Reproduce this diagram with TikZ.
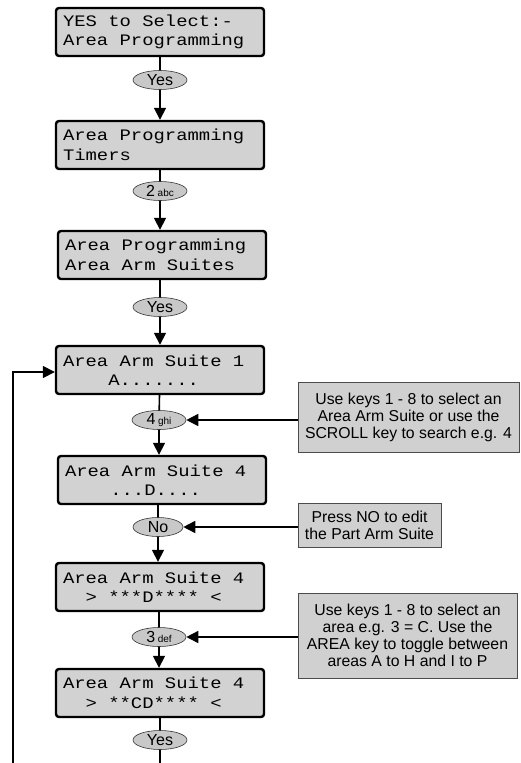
\documentclass[tikz,border=0pt]{standalone}
\usepackage{fontspec}
\setmainfont{Liberation Sans}
\newfontfamily\lcdfont[FakeStretch=1.18]{Liberation Mono}
\usetikzlibrary{arrows.meta,calc,shapes.geometric}
\definecolor{lcdfill}{HTML}{D2D2D2}
\definecolor{keyfill}{HTML}{C8C8C8}
\definecolor{notefill}{HTML}{D0D0D0}
\newcommand{\ind}[1]{\phantom{#1}}
\newcommand{\s}{\hbox to 0.708em{}}
\newcommand{\lcdsel}{\lcdfont\fontsize{16}{19.5}\selectfont}
\tikzset{
  lcd/.style={draw=black, line width=2.4pt, rounded corners=3pt, fill=lcdfill,
    minimum width=208pt, minimum height=48pt, inner sep=0pt, text width=194pt,
    align=left, font=\lcdsel},
  key/.style={ellipse, draw=black!80, line width=0.6pt, fill=keyfill,
    minimum width=54pt, minimum height=19pt, inner sep=0pt,
    font=\fontsize{16}{16}\selectfont},
  note/.style={draw=black!70, line width=0.7pt, fill=notefill, inner sep=0pt,
    align=center, font=\fontsize{15.8}{17}\selectfont},
  link/.style={line width=1.6pt},
  flow/.style={line width=1.6pt, -{Triangle[width=12pt,length=12pt]}}
}
\newcommand{\kl}[2]{#1\,{\fontsize{10}{10}\selectfont #2}}
\begin{document}
\begin{tikzpicture}[x=1pt,y=-1pt]
\useasboundingbox (0,0) rectangle (520,763);
% LCD boxes
\node[lcd] (b1) at (160,32) {YES\s to\s Select:-\\Area\s Programming};
\node[lcd] (b2) at (160,145) {Area\s Programming\\Timers};
\node[lcd] (b3) at (162,255) {Area\s Programming\\Area\s Arm\s Suites};
\node[lcd] (b4) at (160,370) {Area\s Arm\s Suite\s 1\\\ind{xxxx}A.......};
\node[lcd] (b5) at (162,480) {Area\s Arm\s Suite\s 4\\\ind{xxxx}...D....};
\node[lcd] (b6) at (160,587) {Area\s Arm\s Suite\s 4\\\ind{xx}>\s ***D****\s <};
\node[lcd] (b7) at (160,693) {Area\s Arm\s Suite\s 4\\\ind{xx}>\s **CD****\s <};
% keys
\node[key] (e1) at (160,80) {Yes};
\node[key] (e2) at (160,191) {\kl{2}{abc}};
\node[key] (e3) at (160,307) {Yes};
\node[key] (e4) at (159,420) {\kl{4}{ghi}};
\node[key, minimum width=50pt] (e5) at (158,527) {No};
\node[key] (e6) at (159,637) {\kl{3}{def}};
\node[key] (e7) at (160,740) {Yes};
\coordinate (end) at (160,763);
\coordinate (fb) at (13,763);
% notes
\node[note, minimum width=221pt, minimum height=70pt] (cA) at (408.5,417)
  {Use keys 1 - 8 to select an\\Area Arm Suite or use the\\SCROLL key to search e.g. 4};
\node[note, minimum width=143pt, minimum height=44pt] (cB) at (369.5,525)
  {Press NO to edit\\the Part Arm Suite};
\node[note, minimum width=219pt, minimum height=85pt] (cC) at (407.5,635.5)
  {Use keys 1 - 8 to select an\\area e.g. 3 = C. Use the\\AREA key to toggle between\\areas A to H and I to P};
% flow
\draw[link] (b1) -- (e1);
\draw[flow] (e1) -- (b2);
\draw[link] (b2) -- (e2);
\draw[flow] (e2) -- (b3.north -| e2);
\draw[link] (b3.south -| e3) -- (e3);
\draw[flow] (e3) -- (b4);
\draw[link] (b4) -- (e4);
\draw[flow] (e4) -- (b5.north -| e4);
\draw[link] (b5.south -| e5) -- (e5);
\draw[flow] (e5) -- (b6.north -| e5);
\draw[link] (b6.south -| e6) -- (e6);
\draw[flow] (e6) -- (b7.north -| e6);
\draw[link] (b7) -- (e7);
\draw[link] (e7) -- (end);
\draw[flow] (fb) |- ($(b4.west)+(0,2)$);
\draw[flow] (cA.west |- e4.east) -- (e4.east);
\draw[flow] (cB.west |- e5.east) -- (e5.east);
\draw[flow] (cC.west |- e6.east) -- (e6.east);
\end{tikzpicture}
\end{document}
